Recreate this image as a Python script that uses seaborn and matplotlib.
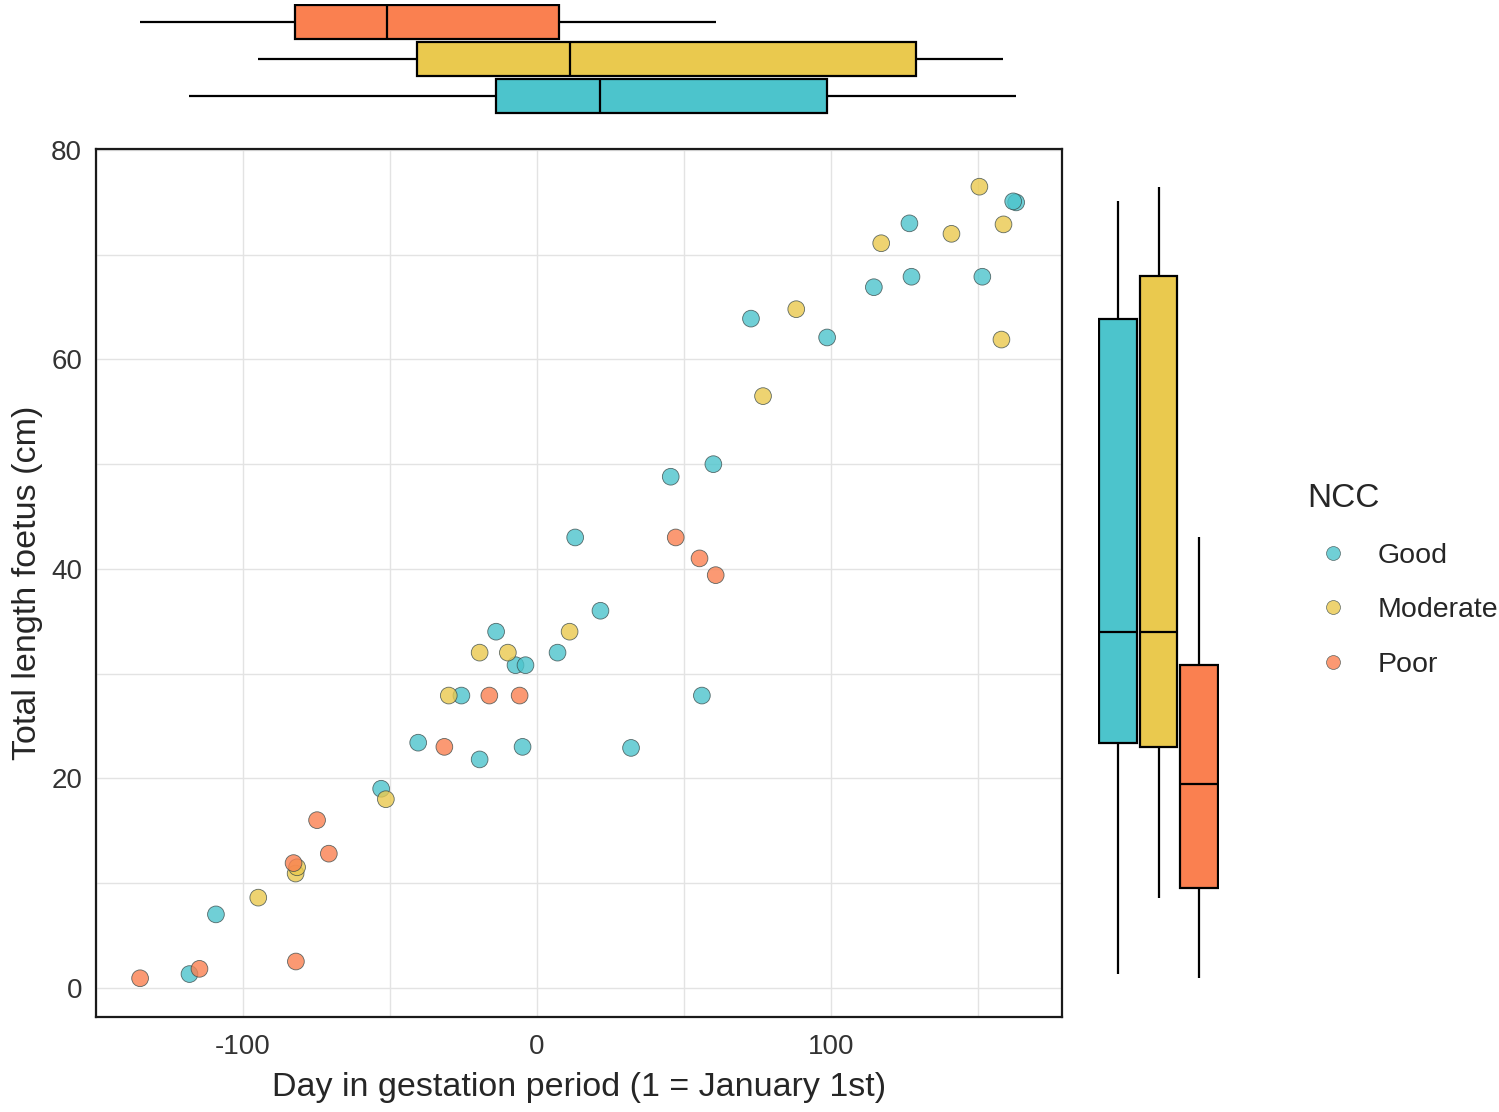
import pandas as pd
import matplotlib.pyplot as plt
import seaborn as sns
from matplotlib.lines import Line2D

# Data: day in gestation period vs total foetus length, per NCC class
good_day = [163, 162, 126.7, 127.4, 151.5, 114.6, 72.8, 98.7, 60.0, 45.5, 13.0, 21.6,
            -13.9, 7.0, -7.3, -3.9, -25.7, -40.4, -19.5, -4.9, -53.0, -109.2, -118.2,
            56.1, 32.0]
good_len = [75.0, 75.1, 73.0, 67.9, 67.9, 66.9, 63.9, 62.1, 50.0, 48.8, 43.0, 36.0,
            34.0, 32.0, 30.8, 30.8, 27.9, 23.4, 21.8, 23.0, 19.0, 7.0, 1.3,
            27.9, 22.9]

moderate_day = [150.5, 141.0, 158.7, 117.1, 88.2, 158.0, 76.9, 11.1, -19.5, -9.9,
                -30.0, -51.4, -82.1, -94.8, -81.6]
moderate_len = [76.5, 72.0, 72.9, 71.1, 64.8, 61.9, 56.5, 34.0, 32.0, 32.0,
                27.9, 18.0, 10.9, 8.6, 11.5]

poor_day = [47.2, 55.3, 60.8, -16.2, -5.9, -31.5, -74.8, -70.8, -82.8, -82.0,
            -114.8, -135.0]
poor_len = [43.0, 41.0, 39.4, 27.9, 27.9, 23.0, 16.0, 12.8, 11.9, 2.5,
            1.8, 0.9]

groups = ["Good", "Moderate", "Poor"]
colors = {"Good": "#4CC4CC", "Moderate": "#EAC94E", "Poor": "#FA8050"}

df = pd.concat([
    pd.DataFrame({"day": good_day, "length": good_len, "NCC": "Good"}),
    pd.DataFrame({"day": moderate_day, "length": moderate_len, "NCC": "Moderate"}),
    pd.DataFrame({"day": poor_day, "length": poor_len, "NCC": "Poor"}),
], ignore_index=True)

sns.set_style("white")
plt.rcParams["font.family"] = ["Liberation Sans", "DejaVu Sans"]
plt.rcParams["axes.unicode_minus"] = False

W, H = 1499, 1112
fig = plt.figure(figsize=(W / 100, H / 100), dpi=100)
ax = fig.add_axes([96 / W, 1 - 1017 / H, 966 / W, 868 / H])
ax_top = fig.add_axes([96 / W, 1 - 114.5 / H, 966 / W, 111 / H])
ax_right = fig.add_axes([1097.75 / W, 1 - 1017 / H, 121.5 / W, 868 / H])

# Main scatter
sns.scatterplot(data=df, x="day", y="length", hue="NCC", hue_order=groups,
                palette=colors, s=145, alpha=0.8, edgecolor="#3a4a4a",
                linewidth=0.6, legend=False, ax=ax, zorder=3)
ax.set_xlim(-149.9, 178.6)
ax.set_ylim(-2.8, 80.1)
ax.set_xticks([-100, 0, 100])
ax.set_yticks([0, 20, 40, 60, 80])
ax.set_xticks([-150, -50, 50, 150], minor=True)
ax.set_yticks([10, 30, 50, 70], minor=True)
ax.grid(True, which="both", color="#E3E3E3", linewidth=1.0)
ax.set_axisbelow(True)
for sp in ax.spines.values():
    sp.set_color("#1a1a1a")
    sp.set_linewidth(1.6)
ax.tick_params(axis="both", which="major", labelsize=20, length=5, width=1,
               color="#333333", labelcolor="#333333", direction="out")
ax.tick_params(axis="x", which="major", pad=7)
ax.tick_params(axis="y", which="major", pad=5)
ax.tick_params(which="minor", length=0)
ax.set_xlabel("Day in gestation period (1 = January 1st)", fontsize=24.5, labelpad=9)
ax.set_ylabel("Total length foetus (cm)", fontsize=24.5, labelpad=6)

# Top marginal boxplot (x)
sns.boxplot(data=df, x="day", y="NCC", order=["Poor", "Moderate", "Good"],
            hue="NCC", palette=colors, saturation=1, width=0.92, linecolor="black",
            linewidth=1.6, showcaps=False, legend=False, ax=ax_top)
ax_top.set_xlim(ax.get_xlim())
ax_top.set_ylim(2.5, -0.5)
ax_top.axis("off")

# Right marginal boxplot (y)
sns.boxplot(data=df, x="NCC", y="length", order=groups,
            hue="NCC", palette=colors, saturation=1, width=0.92, linecolor="black",
            linewidth=1.6, showcaps=False, legend=False, ax=ax_right)
ax_right.set_ylim(ax.get_ylim())
ax_right.set_xlim(-0.5, 2.5)
ax_right.axis("off")

# Legend
handles = [Line2D([], [], marker="o", linestyle="none", markersize=10,
                  markerfacecolor=colors[g], markeredgecolor="#3a4a4a",
                  markeredgewidth=0.5, alpha=0.8) for g in groups]
leg = fig.legend(handles, groups, title="NCC", loc="upper left",
                 bbox_to_anchor=(1296 / W, 1 - 472 / H), frameon=False,
                 fontsize=20.5, title_fontsize=24, labelspacing=1.0,
                 handletextpad=0.68, handlelength=1.8, borderaxespad=0)
leg._legend_box.align = "left"

fig.savefig("out.png", dpi=100)
